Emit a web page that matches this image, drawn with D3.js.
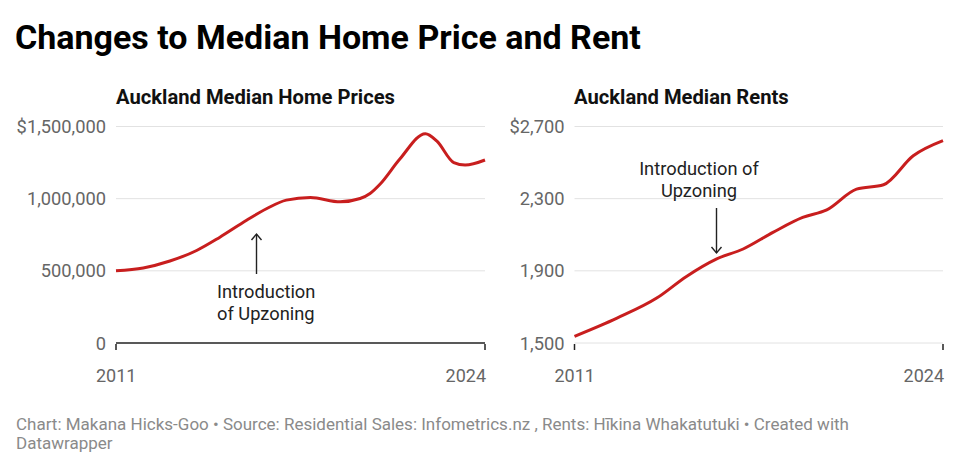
<!DOCTYPE html>
<html><head><meta charset="utf-8">
<script src="https://cdn.jsdelivr.net/npm/d3@7"></script>
<style>
body{margin:0;background:#fff;font-family:Roboto,sans-serif;}
svg{display:block}
</style></head><body>
<svg id="c" width="960" height="469"></svg>
<script>
// Data
const priceYears = [2011.0, 2011.96, 2012.9, 2013.84, 2014.66, 2015.6, 2016.3, 2017.0, 2017.85, 2018.9, 2019.6, 2019.95, 2020.3, 2021.0, 2021.9, 2022.3, 2022.9, 2023.3, 2024.0];
const priceValues = [500000, 520000, 568000, 641000, 733000, 850000, 930000, 990000, 1008000, 978000, 1001000, 1036000, 1100000, 1275000, 1450000, 1400000, 1250000, 1233000, 1268000];
const rentYears = [2011.0, 2012.5, 2013.9, 2014.95, 2016.0, 2016.95, 2018.0, 2019.05, 2019.9, 2020.95, 2021.9, 2022.95, 2024.0];
const rentValues = [1537, 1638, 1749, 1869, 1965, 2021, 2113, 2196, 2238, 2353, 2377, 2538, 2622];
const priceTicks = [0, 500000, 1000000, 1500000];
const rentTicks = [1500, 1900, 2300, 2700];
const xTickLabels = [2011, 2024];

const svg = d3.select("#c");
const red = "#c81e1e";

svg.append("text").attr("x",15).attr("y",49).attr("font-size",34).attr("font-weight",700)
  .attr("fill","#000").text("Changes to Median Home Price and Rent");

function panel(o){
  const g = svg.append("g");
  const x = d3.scaleLinear().domain([2011,2024]).range([o.x0,o.x1]);
  const y = d3.scaleLinear().domain(o.domain).range([343,126.5]);
  g.append("text").attr("x",o.titleX).attr("y",104).attr("font-size",20.2).attr("font-weight",700)
    .attr("fill","#111").text(o.title);
  o.ticks.forEach((t,i)=>{
    if(!(o.baseline && i===0))
      g.append("line").attr("x1",o.x0).attr("x2",o.x1).attr("y1",y(t)).attr("y2",y(t))
        .attr("stroke","#e2e2e2").attr("stroke-width",1);
    g.append("text").attr("x",o.x0-10).attr("y",y(t)+6.5).attr("text-anchor","end")
      .attr("font-size",18.3).attr("fill","#666").text(o.fmt(t,i));
  });
  if(o.baseline){
    g.append("line").attr("x1",o.x0).attr("x2",o.x1).attr("y1",343).attr("y2",343)
      .attr("stroke","#222").attr("stroke-width",1.3);
  }
  xTickLabels.forEach((t,i)=>{
    g.append("line").attr("x1",x(t)).attr("x2",x(t)).attr("y1",344).attr("y2",350)
      .attr("stroke","#222").attr("stroke-width",1.5);
    g.append("text").attr("x",x(t)).attr("y",382).attr("text-anchor",i===0?"start":"end")
      .attr("dx",i===0?-20:1).attr("font-size",18).attr("fill","#666").text(t);
  });
  const line = d3.line().x(d=>x(d[0])).y(d=>y(d[1])).curve(d3.curveMonotoneX);
  g.append("path").datum(o.years.map((yy,i)=>[yy,o.values[i]])).attr("d",line)
    .attr("fill","none").attr("stroke",red).attr("stroke-width",3).attr("stroke-linejoin","round");
  return {g,x,y};
}

const L = panel({x0:116,x1:485,domain:[0,1500000],ticks:priceTicks,years:priceYears,values:priceValues,
  title:"Auckland Median Home Prices",titleX:116,baseline:true,
  fmt:(t,i)=> i===priceTicks.length-1 ? "$"+d3.format(",")(t) : d3.format(",")(t)});
const R = panel({x0:574.5,x1:943,domain:[1500,2700],ticks:rentTicks,years:rentYears,values:rentValues,
  title:"Auckland Median Rents",titleX:574,baseline:false,
  fmt:(t,i)=> i===rentTicks.length-1 ? "$"+d3.format(",")(t) : d3.format(",")(t)});

function arrow(g,x,y1,y2,up){
  g.append("line").attr("x1",x).attr("x2",x).attr("y1",y1).attr("y2",y2).attr("stroke","#222").attr("stroke-width",1.4);
  const tip = up?y1:y2, d = up?6:-6;
  g.append("path").attr("d",`M${x-5},${tip+d}L${x},${tip}L${x+5},${tip+d}`).attr("fill","none")
    .attr("stroke","#222").attr("stroke-width",1.4);
}
arrow(L.g, 256.5, 234, 274, true);
[["Introduction",298],["of Upzoning",320]].forEach(([t,yy])=>
  L.g.append("text").attr("x",217).attr("y",yy).attr("font-size",18.3).attr("fill","#222").text(t));
arrow(R.g, 716.5, 208, 253, false);
[["Introduction of",175],["Upzoning",197]].forEach(([t,yy])=>
  R.g.append("text").attr("x",699).attr("y",yy).attr("text-anchor","middle").attr("font-size",18.3).attr("fill","#222").text(t));

const foot = svg.append("text").attr("font-size",17).attr("fill","#8a8a8a");
foot.append("tspan").attr("x",16).attr("y",430).text("Chart: Makana Hicks-Goo • Source: Residential Sales: Infometrics.nz , Rents: Hīkina Whakatutuki • Created with");
foot.append("tspan").attr("x",16).attr("y",449).text("Datawrapper");
</script></body></html>
